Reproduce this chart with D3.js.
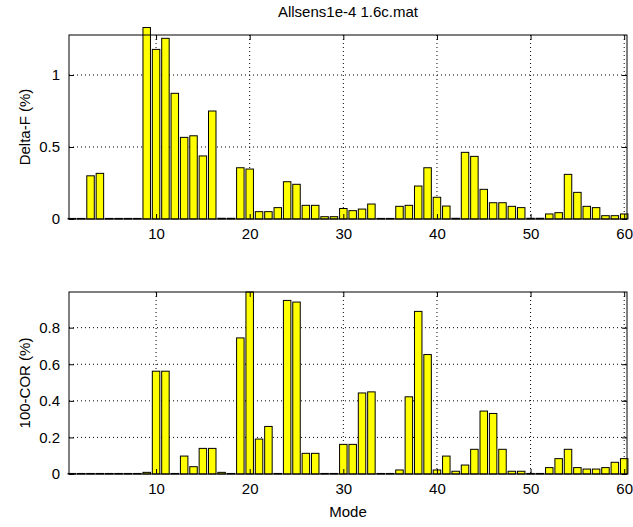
<!DOCTYPE html>
<html>
<head>
<meta charset="utf-8">
<script src="https://cdn.jsdelivr.net/npm/d3@7"></script>
<style>
 body{margin:0;background:#fff;}
 text{font-family:"Liberation Sans",Arial,sans-serif;fill:#000;}
 .grid line{stroke:#000;stroke-width:1;stroke-dasharray:1,3;}
 .bar{fill:#ffff00;stroke:#000;stroke-width:1;}
</style>
</head>
<body>
<div id="chartDiv"></div>
<script>
//Chart data
var chartTitle = "Allsens1e-4 1.6c.mat";
var modes = d3.range(1,61);			//Mode numbers 1..60
var deltaF = [0.004,0.004,0.300,0.317,0.004,0.004,0.004,0.004,1.330,1.178,
              1.255,0.873,0.567,0.578,0.438,0.750,0.005,0.005,0.356,0.347,
              0.051,0.051,0.079,0.259,0.241,0.095,0.095,0.016,0.016,0.073,
              0.058,0.069,0.104,0.004,0.004,0.088,0.095,0.229,0.356,0.151,
              0.090,0.005,0.463,0.435,0.206,0.113,0.113,0.088,0.079,0.005,
              0.005,0.035,0.044,0.310,0.185,0.088,0.079,0.023,0.023,0.035];
var cor    = [0.003,0.003,0.003,0.003,0.003,0.003,0.003,0.003,0.009,0.562,
              0.562,0.003,0.098,0.040,0.140,0.140,0.009,0.003,0.744,0.995,
              0.191,0.260,0.003,0.949,0.940,0.113,0.113,0.003,0.003,0.162,
              0.162,0.443,0.449,0.003,0.003,0.022,0.422,0.889,0.653,0.022,
              0.098,0.015,0.049,0.135,0.344,0.331,0.135,0.015,0.015,0.003,
              0.003,0.035,0.084,0.135,0.035,0.027,0.027,0.035,0.064,0.084];
var xTicks = [10,20,30,40,50,60];
var yTicksTop = [0,0.5,1];
var yTicksBottom = [0,0.2,0.4,0.6,0.8];

var W = 633, H = 527;
var plotLeft = 69, plotRight = 627;

var svg = d3.select("#chartDiv").append("svg")
 .attr("width", W)
 .attr("height", H);

var xScale = d3.scaleLinear().domain([0.7,60.3]).range([plotLeft, plotRight]);
var barW = xScale(0.8) - xScale(0);		//MATLAB default bar width 0.8

function drawPanel(vals, top, bottom, yMax, yTicks, yLabel, tickFmt, clip){
 var yScale = d3.scaleLinear().domain([0,yMax]).range([bottom, top]);
 var g = svg.append("g");

 var grid = g.append("g").attr("class","grid");	//Dotted grid
 grid.selectAll(".gx").data(xTicks).enter().append("line")
  .attr("x1", d => xScale(d)).attr("x2", d => xScale(d))
  .attr("y1", top).attr("y2", bottom);
 grid.selectAll(".gy").data(yTicks.slice(1)).enter().append("line")
  .attr("x1", plotLeft).attr("x2", plotRight)
  .attr("y1", d => yScale(d)).attr("y2", d => yScale(d));

 g.selectAll(".bar").data(modes).enter().append("rect")	//Bars
  .attr("class","bar")
  .attr("x", (d,i) => xScale(d) - barW/2)
  .attr("width", barW)
  .attr("y", (d,i) => yScale(Math.min(vals[i], clip)))
  .attr("height", (d,i) => yScale(0) - yScale(Math.min(vals[i], clip)));

 g.append("rect")				//Axes box
  .attr("x", plotLeft).attr("y", top)
  .attr("width", plotRight-plotLeft).attr("height", bottom-top)
  .attr("fill","none").attr("stroke","#000").attr("stroke-width",1);

 var axB = g.append("g").attr("transform","translate(0,"+bottom+")")
  .call(d3.axisBottom(xScale).tickValues(xTicks).tickSizeInner(-5).tickSizeOuter(0).tickPadding(9));
 var axT = g.append("g").attr("transform","translate(0,"+top+")")
  .call(d3.axisTop(xScale).tickValues(xTicks).tickSizeInner(-5).tickSizeOuter(0).tickFormat(""));
 var axL = g.append("g").attr("transform","translate("+plotLeft+",0)")
  .call(d3.axisLeft(yScale).tickValues(yTicks).tickSizeInner(-5).tickSizeOuter(0).tickPadding(9).tickFormat(tickFmt));
 var axR = g.append("g").attr("transform","translate("+plotRight+",0)")
  .call(d3.axisRight(yScale).tickValues(yTicks).tickSizeInner(-5).tickSizeOuter(0).tickFormat(""));
 [axB,axT,axL,axR].forEach(function(a){
  a.select(".domain").remove();
  a.selectAll("text").style("font-size","15px").attr("font-family",null);
 });

 g.append("text")				//Y label
  .attr("transform","translate(25,"+((top+bottom)/2)+")rotate(-90)")
  .attr("text-anchor","middle")
  .attr("dy","0.35em")
  .style("font-size","15px")
  .text(yLabel);
}

drawPanel(deltaF, 35, 219, 1.278, yTicksTop, "Delta-F (%)", d3.format("~g"), 1.40);
drawPanel(cor, 292, 474, 0.995, yTicksBottom, "100-COR (%)", d3.format("~g"), 1);

svg.append("text")				//Title
 .attr("x", (plotLeft+plotRight)/2).attr("y", 17)
 .attr("text-anchor","middle")
 .style("font-size","15px")
 .text(chartTitle);

svg.append("text")				//X label
 .attr("x", (plotLeft+plotRight)/2).attr("y", 517)
 .attr("text-anchor","middle")
 .style("font-size","15px")
 .text("Mode");
</script>
</body>
</html>
